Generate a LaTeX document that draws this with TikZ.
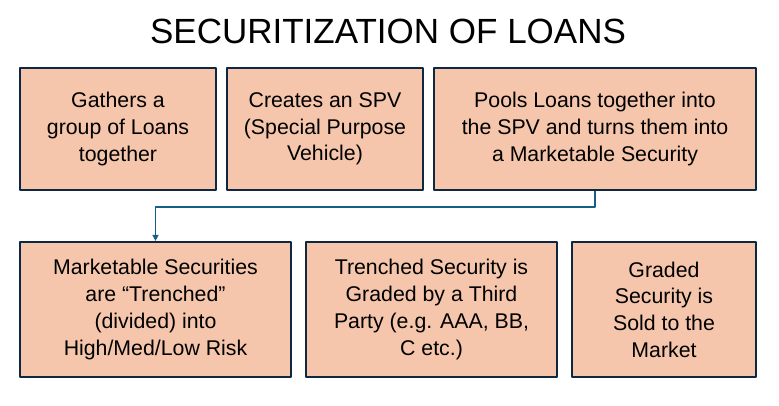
\documentclass[tikz,border=0pt]{standalone}
\usepackage{fontspec}
\setmainfont{Liberation Sans}
\usetikzlibrary{arrows.meta}
\definecolor{boxfill}{HTML}{F5C6AC}
\definecolor{boxline}{HTML}{0E2841}
\definecolor{flowline}{HTML}{156082}
\tikzset{
  stepbox/.style={draw=boxline, fill=boxfill, line width=2.2pt, align=center, inner sep=0pt,
    minimum height=#1, font=\fontsize{21.3}{26.7}\selectfont},
  stepbox/.default=122pt
}
\begin{document}
\begin{tikzpicture}[x=1pt, y=-1pt, >={Triangle[length=6pt,width=6pt]}, line join=round]
				\useasboundingbox (0,0) rectangle (779,405);
				
				\node (title) at (388,31) {\fontsize{35}{40}\selectfont SECURITIZATION OF LOANS};
				
				% top row
				\node[stepbox, minimum width=196pt] (gather) at (118,129) {Gathers a\\group of Loans\\together};
				\node[stepbox, minimum width=196pt] (spv) at (325,129) {Creates an SPV\\(Special Purpose\\Vehicle)};
				\node[stepbox, minimum width=322pt] (pool) at (595,129) {Pools Loans together into\\the SPV and turns them into\\a Marketable Security};
				
				% bottom row
				\node[stepbox=135pt, minimum width=271pt] (tranche) at (155.5,309.5) {Marketable Securities\\are “Trenched”\\(divided) into\\High/Med/Low Risk};
				\node[stepbox=135pt, minimum width=251pt] (grade) at (431.5,309.5) {Trenched Security is\\Graded by a Third\\Party (e.g. AAA, BB,\\C etc.)};
				\node[stepbox=135pt, minimum width=184pt] (sold) at (664,309.5) {Graded\\Security is\\Sold to the\\Market};
				
				\draw[->, flowline, line width=1.5pt] (pool.south) -- ++(0,16) -| (tranche.north);
		\end{tikzpicture}
\end{document}
